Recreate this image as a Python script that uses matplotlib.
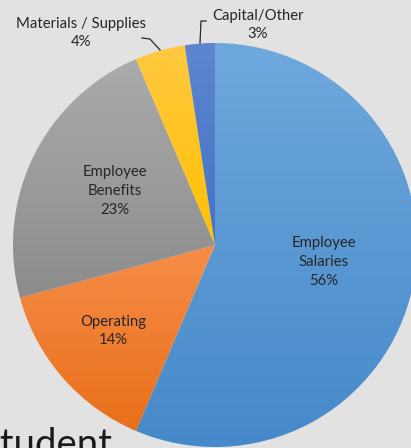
import matplotlib
matplotlib.use("Agg")
import matplotlib.pyplot as plt
import numpy as np
from matplotlib.colors import LinearSegmentedColormap

categories = ["Employee\nSalaries", "Operating", "Employee\nBenefits", "Materials / Supplies", "Capital/Other"]
values = [56.4, 14.4, 22.8, 4.0, 2.4]
pct_labels = ["56%", "14%", "23%", "4%", "3%"]
top_colors = ["#6FA8DD", "#F68D48", "#ABABAB", "#FFC942", "#5E86D0"]
bottom_colors = ["#4689CA", "#E96F1A", "#8C8C8C", "#FFC000", "#4472C4"]

W, H = 411, 448
fig = plt.figure(figsize=(W / 100, H / 100), dpi=100)
fig.patch.set_facecolor("#E2E2E2")
ax = fig.add_axes([0, 0, 1, 1])
ax.set_facecolor("#E2E2E2")

cx, cy, r = 215, H - 245, 202
wedges, _ = ax.pie(values, center=(cx, cy), radius=r, startangle=90,
                   counterclock=False, colors=bottom_colors, frame=True)

for w, c1, c2 in zip(wedges, top_colors, bottom_colors):
    ext = w.get_path().get_extents()
    cmap = LinearSegmentedColormap.from_list("g", [c1, c2])
    grad = np.linspace(0, 1, 256).reshape(-1, 1)
    im = ax.imshow(grad, cmap=cmap, extent=[ext.x0, ext.x1, ext.y0, ext.y1],
                   aspect="auto", origin="upper", zorder=2, interpolation="bilinear")
    im.set_clip_path(w)
    w.set_visible(False)

font = ["Lato", "DejaVu Sans"]
tc = "#262626"
label_pos = [(324, 262), (113, 331), (115, 191), (81, 33), (258, 25)]
for cat, p, (x, y) in zip(categories, pct_labels, label_pos):
    ax.text(x, H - y, cat + "\n" + p, ha="center", va="center", fontsize=10.7,
            family=font, color=tc, linespacing=1.45, zorder=5)

# leader lines
ax.plot([142, 150, 160], [H - 38, H - 39, H - 50], color="#262626", lw=0.9, zorder=5)
ax.plot([206, 201, 200], [H - 21, H - 21, H - 43], color="#262626", lw=0.9, zorder=5)

ax.text(113, H - 456, "Student", ha="right", va="baseline", fontsize=27.5,
        family=font, fontweight="normal", color="#1a1a1a", zorder=5)

ax.set_xlim(0, W)
ax.set_ylim(0, H)
ax.set_aspect("auto")
ax.axis("off")
fig.savefig("out.png", dpi=100, facecolor=fig.get_facecolor())
